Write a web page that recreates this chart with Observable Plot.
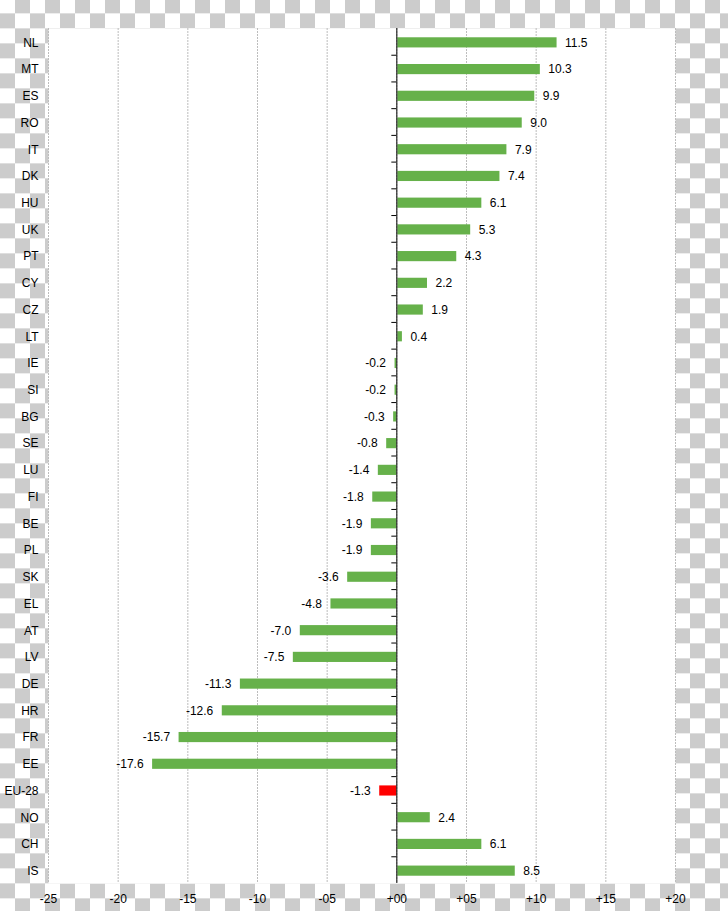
<!DOCTYPE html>
<html>
<head>
<meta charset="utf-8">
<script src="https://cdn.jsdelivr.net/npm/d3@7"></script>
<script src="https://cdn.jsdelivr.net/npm/@observablehq/plot@0.6"></script>
<style>
  html, body { margin: 0; padding: 0; }
  body {
    width: 728px; height: 911px; overflow: hidden;
    background-color: #fff;
    background-image: conic-gradient(#cccccc 25%, #ffffff 0 50%, #cccccc 0 75%, #ffffff 0);
    background-size: 30px 30px;
    background-position: 0px -1.67px;
    font-family: "Liberation Sans", Arial, sans-serif;
  }
  svg { background: transparent !important; display: block; }
</style>
</head>
<body>
<div id="chart"></div>
<script>
const countries = ["NL","MT","ES","RO","IT","DK","HU","UK","PT","CY","CZ","LT","IE","SI","BG","SE","LU","FI","BE","PL","SK","EL","AT","LV","DE","HR","FR","EE","EU-28","NO","CH","IS"];
const values = [11.5,10.3,9.9,9.0,7.9,7.4,6.1,5.3,4.3,2.2,1.9,0.4,-0.2,-0.2,-0.3,-0.8,-1.4,-1.8,-1.9,-1.9,-3.6,-4.8,-7.0,-7.5,-11.3,-12.6,-15.7,-17.6,-1.3,2.4,6.1,8.5];
const highlight = ["EU-28"];
const xTicks = [-25,-20,-15,-10,-5,0,5,10,15,20];

const data = countries.map((c, i) => ({country: c, value: values[i]}));

const W = 728, H = 911;
const mL = 48, mR = 53, mT = 28, mB = 28;
const step = (H - mT - mB) / countries.length;

const fmtTick = d => (d < 0 ? "-" : "+") + String(Math.abs(d)).padStart(2, "0");

const chart = Plot.plot({
  width: W,
  height: H,
  marginLeft: mL,
  marginRight: mR,
  marginTop: mT,
  marginBottom: mB,
  style: {background: "transparent", fontFamily: "'Liberation Sans', Arial, sans-serif", fontSize: "12px", color: "#000"},
  x: {domain: [-25, 20], label: null},
  y: {domain: countries, paddingInner: 0.62, paddingOuter: 0.31, round: false, label: null},
  marks: [
    Plot.frame({fill: "white", stroke: null}),
    Plot.ruleX(xTicks, {stroke: "#bdbdbd", strokeDasharray: "2,1", strokeWidth: 1}),
    Plot.barX(data, {
      x1: 0, x2: "value", y: "country",
      fill: d => highlight.includes(d.country) ? "#ff0000" : "#66b14a",
      insetLeft: 1,
      dy: 1
    }),
    Plot.ruleY(countries.slice(1), {y: d => d, x1: -0.36, x2: 0, stroke: "#000", dy: -step / 2}),
    Plot.ruleX([0], {stroke: "#000", strokeWidth: 1}),
    Plot.text(data.filter(d => d.value >= 0), {
      x: "value", y: "country",
      text: d => d.value.toFixed(1),
      textAnchor: "start", dx: 8, dy: 1,
      fill: "#000", fontSize: 12
    }),
    Plot.text(data.filter(d => d.value < 0), {
      x: "value", y: "country",
      text: d => d.value.toFixed(1),
      textAnchor: "end", dx: -8, dy: 1,
      fill: "#000", fontSize: 12
    }),
    Plot.axisX({ticks: xTicks, tickFormat: fmtTick, tickSize: 0, tickPadding: 11, fontSize: 12}),
    Plot.axisY({tickSize: 0, tickPadding: 10, fontSize: 12, dy: 1})
  ]
});

document.getElementById("chart").appendChild(chart);
</script>
</body>
</html>
